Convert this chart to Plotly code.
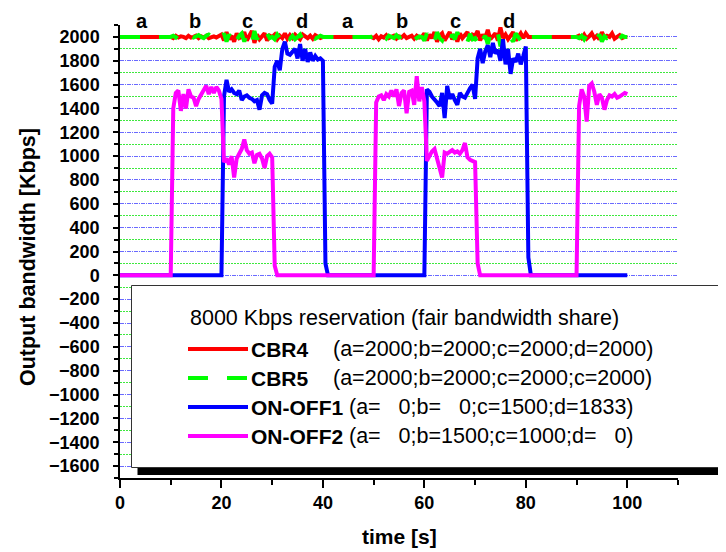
import numpy as np
import plotly.graph_objects as go

# sample times (0.5 s resolution)
time_s = np.arange(0, 100.5, 0.5)

cbr4 = ([2000] * 20
        + [2000, 1990, 2010, 1995, 2005, 2000, 1990, 2010, 1995, 2000, 2010, 1990, 2005, 1995, 2010, 1990, 2000, 2005, 1995, 2010]
        + [2020, 1970, 2040, 1980, 2010, 1960, 2030, 1990, 2000, 2040, 1970, 2010, 2050, 1950, 2020, 1980, 2000, 2030, 1970, 2010]
        + [2000, 2020, 1980, 2010, 1990, 2030, 1985, 2015, 1990, 2020, 2000, 1980, 2020, 2000, 1990, 2010, 1985, 2015, 2000, 1990]
        + [2000] * 20
        + [1990, 2010, 1980, 2005, 1995, 2015, 1990, 2000, 2010, 1985, 2005, 1995, 2015, 1990, 2000, 2010, 1985, 2010, 1995, 2000]
        + [2030, 1970, 2020, 1990, 2040, 1960, 2010, 2030, 1970, 2000, 2040, 1980, 2020, 1960, 2030, 1990, 2010, 2040, 1975, 2020]
        + [2010, 2050, 1970, 2020, 1990, 2060, 1980, 2010, 2030, 1970, 2080, 1990, 2020, 1980, 2010, 2040, 1970, 2000, 2030, 1990]
        + [2030, 2000] + [2000] * 18
        + [2000, 2010, 1990, 2020, 1985, 2005, 2030, 1990, 2010, 1980, 2040, 1995, 2010, 2000, 2030, 1985, 2005, 2015, 1990, 2000, 2000])

cbr5 = ([2000] * 20
        + [2000, 2010, 1995, 2020, 2030, 2005, 1990, 2000, 2010, 1995, 2005, 2015, 2000, 1990, 2010, 2020, 2005, 1995, 2010, 2000]
        + [1980, 2030, 1960, 2020, 1990, 2040, 1970, 2010, 2030, 1960, 2030, 1990, 1950, 2050, 1980, 2020, 2000, 1970, 2030, 1990]
        + [2000, 1980, 2020, 1990, 2010, 1970, 2015, 1985, 2010, 1980, 2000, 2020, 1980, 2000, 2010, 1990, 2015, 1985, 2000, 2010]
        + [2000] * 20
        + [2010, 1990, 2020, 1995, 2005, 1985, 2010, 2000, 1990, 2015, 1995, 2005, 1985, 2010, 2000, 1990, 2015, 1990, 2005, 2000]
        + [1970, 2030, 1980, 2010, 1960, 2040, 1990, 1970, 2030, 2000, 1960, 2020, 1980, 2040, 1970, 2010, 1990, 1960, 2025, 1980]
        + [1990, 1950, 2030, 1980, 2010, 1940, 2020, 1990, 1970, 2030, 1920, 2010, 1980, 2020, 1990, 1960, 2030, 2000, 1970, 2010]
        + [1970, 2000] + [2000] * 18
        + [2000, 1990, 2010, 1980, 2015, 1995, 1970, 2010, 1990, 2020, 1960, 2005, 1990, 2000, 1970, 2015, 1995, 1985, 2010, 2000, 2000])

onoff1 = ([0] * 40
          + [0, 1500, 1640, 1540, 1560, 1530, 1520, 1550, 1470, 1500, 1510, 1490, 1480, 1460, 1470, 1390, 1510, 1530, 1520, 1470]
          + [1440, 1750, 1800, 1720, 1900, 1960, 1860, 1850, 1870, 1900, 1820, 1940, 1800, 1900, 1790, 1870, 1800, 1840, 1810, 1820]
          + [1800, 100] + [0] * 18
          + [0] * 20
          + [0, 1560, 1540, 1500, 1480, 1450, 1420, 1530, 1320, 1590, 1480, 1520, 1470, 1430, 1530, 1500, 1490, 1540, 1570, 1600]
          + [1480, 1820, 1900, 1780, 1880, 1930, 1830, 1950, 1860, 1890, 1800, 1980, 1770, 1900, 1690, 1820, 1790, 1860, 1770, 1840]
          + [1920, 150] + [0] * 18
          + [0] * 21)

onoff2 = ([0] * 20
          + [0, 1400, 1530, 1550, 1380, 1520, 1400, 1560, 1500, 1490, 1420, 1480, 1520, 1560, 1590, 1520, 1580, 1530, 1580, 1550]
          + [1480, 950, 980, 930, 1000, 820, 980, 1020, 1060, 1140, 1050, 1020, 1030, 940, 1010, 1020, 980, 900, 1000, 1020]
          + [990, 80] + [0] * 18
          + [0] * 20
          + [0, 1450, 1500, 1510, 1470, 1520, 1500, 1550, 1500, 1560, 1420, 1530, 1550, 1360, 1540, 1550, 1430, 1670, 1460, 1580]
          + [1460, 960, 1000, 1040, 1060, 990, 900, 820, 1030, 1020, 1040, 1050, 1030, 1040, 1020, 1050, 1110, 990, 970, 960]
          + [950, 100] + [0] * 18
          + [0] * 20
          + [0, 1420, 1560, 1500, 1290, 1590, 1610, 1540, 1430, 1520, 1490, 1390, 1470, 1510, 1500, 1520, 1490, 1500, 1520, 1530, 1520])

phase_labels = ["a", "b", "c", "d", "a", "b", "c", "d"]
phase_label_x = [4.3, 14.8, 25.2, 35.8, 44.9, 55.5, 66.1, 76.6]

series_names = ["CBR4", "CBR5", "ON-OFF1", "ON-OFF2"]
series_notes = ["(a=2000;b=2000;c=2000;d=2000)",
                "(a=2000;b=2000;c=2000;c=2000)",
                "(a=\u00a0\u00a0\u00a00;b=\u00a0\u00a0\u00a00;c=1500;d=1833)",
                "(a=\u00a0\u00a0\u00a00;b=1500;c=1000;d=\u00a0\u00a0\u00a00)"]
legend_title = "8000 Kbps reservation (fair bandwidth share)"
x_title = "time [s]"
y_title = "Output bandwidth [Kbps]"

colors = ["#FF0000", "#00FF00", "#0000FF", "#FF00FF"]
dashes = ["solid", "20px,19px", "solid", "solid"]
values = [cbr4, cbr5, onoff1, onoff2]

FONT = "Arial, Liberation Sans, sans-serif"

fig = go.Figure()
for name, vals, col, dsh in zip(series_names, values, colors, dashes):
    fig.add_trace(go.Scatter(x=time_s, y=vals, mode="lines", name=name,
                             line=dict(color=col, width=4, dash=dsh)))

# The page body has an 8px margin: the paper starts at (8, 8) in the window.
OFF = 8
FIG_W, FIG_H = 710, 544
# plot-area geometry in window px
L, R, T, B = 120, 678, 25, 478
W, H = R - L, B - T


def px_x(p):
    return (p - L) / W


def px_y(p):
    return (B - p) / H


LEG_FS = 21.5
shapes = []
# legend shadow and box
shapes.append(dict(type="rect", xref="paper", yref="paper", layer="above",
                   x0=px_x(137.5), x1=px_x(740), y0=px_y(475), y1=px_y(300),
                   fillcolor="black", line=dict(width=0)))
shapes.append(dict(type="rect", xref="paper", yref="paper", layer="above",
                   x0=px_x(131.5), x1=px_x(724.5), y0=px_y(467.5), y1=px_y(285.5),
                   fillcolor="white", line=dict(color="#333333", width=1)))
row_y = [349, 378, 407, 436]
annotations = []
annotations.append(dict(xref="paper", yref="paper", x=px_x(188), y=px_y(318),
                        xanchor="left", yanchor="middle", showarrow=False,
                        text=legend_title, font=dict(family=FONT, size=LEG_FS, color="black")))
note_x = [331, 331, 347, 347]
for i, (name, note, col, dsh) in enumerate(zip(series_names, series_notes, colors, dashes)):
    shapes.append(dict(type="line", xref="paper", yref="paper", layer="above",
                       x0=px_x(188), x1=px_x(248), y0=px_y(row_y[i]), y1=px_y(row_y[i]),
                       line=dict(color=col, width=4, dash=dsh)))
    annotations.append(dict(xref="paper", yref="paper", x=px_x(249), y=px_y(row_y[i]),
                            xanchor="left", yanchor="middle", showarrow=False,
                            text="<b>" + name + "</b>",
                            font=dict(family=FONT, size=LEG_FS - 0.5, color="black")))
    annotations.append(dict(xref="paper", yref="paper", x=px_x(note_x[i]), y=px_y(row_y[i]),
                            xanchor="left", yanchor="middle", showarrow=False,
                            text=note, font=dict(family=FONT, size=LEG_FS, color="black")))

for lab, lx in zip(phase_labels, phase_label_x):
    annotations.append(dict(xref="x", yref="paper", x=lx, y=px_y(21),
                            xanchor="center", yanchor="middle", showarrow=False,
                            text="<b>" + lab + "</b>",
                            font=dict(family=FONT, size=20, color="black")))

# axis titles
annotations.append(dict(xref="paper", yref="paper", x=px_x(28), y=px_y(257),
                        xanchor="center", yanchor="middle", showarrow=False, textangle=-90,
                        text="<b>" + y_title + "</b>",
                        font=dict(family=FONT, size=21.5, color="black")))
annotations.append(dict(xref="paper", yref="paper", x=px_x(399), y=px_y(536),
                        xanchor="center", yanchor="middle", showarrow=False,
                        text="<b>" + x_title + "</b>",
                        font=dict(family=FONT, size=21, color="black")))

fig.update_layout(
    template="none",
    width=FIG_W, height=FIG_H,
    margin=dict(l=L - OFF, r=FIG_W + OFF - R, t=T - OFF, b=FIG_H + OFF - B, pad=0),
    plot_bgcolor="white", paper_bgcolor="white",
    showlegend=False,
    font=dict(family=FONT, color="black"),
    shapes=shapes,
    annotations=annotations,
    xaxis=dict(
        range=[0, 110], tick0=0, dtick=20,
        ticks="outside", ticklen=8, tickwidth=1.5, tickcolor="black",
        showline=True, linecolor="black", linewidth=1.5,
        showgrid=False, zeroline=False, automargin=False,
        tickfont=dict(family=FONT, size=18, weight="bold", color="black"),
        minor=dict(dtick=10, ticks="outside", ticklen=5, tickwidth=1.5,
                   tickcolor="black", showgrid=False),
    ),
    yaxis=dict(
        range=[-1700, 2100], tick0=0, dtick=200,
        ticks="outside", ticklen=5, tickwidth=1.5, tickcolor="black",
        showline=True, linecolor="black", linewidth=1.5,
        showgrid=True, gridcolor="#6a6aff", gridwidth=1, griddash="4px,1px,1px,1px",
        zeroline=False, automargin=False,
        ticklabelstandoff=10,
        tickfont=dict(family=FONT, size=18, weight="bold", color="black"),
        minor=dict(dtick=100, ticks="outside", ticklen=4, tickwidth=1.5,
                   tickcolor="black", showgrid=True, gridcolor="#3ee83e",
                   gridwidth=1, griddash="2px,1px"),
    ),
)

fig.write_html("out.html")
